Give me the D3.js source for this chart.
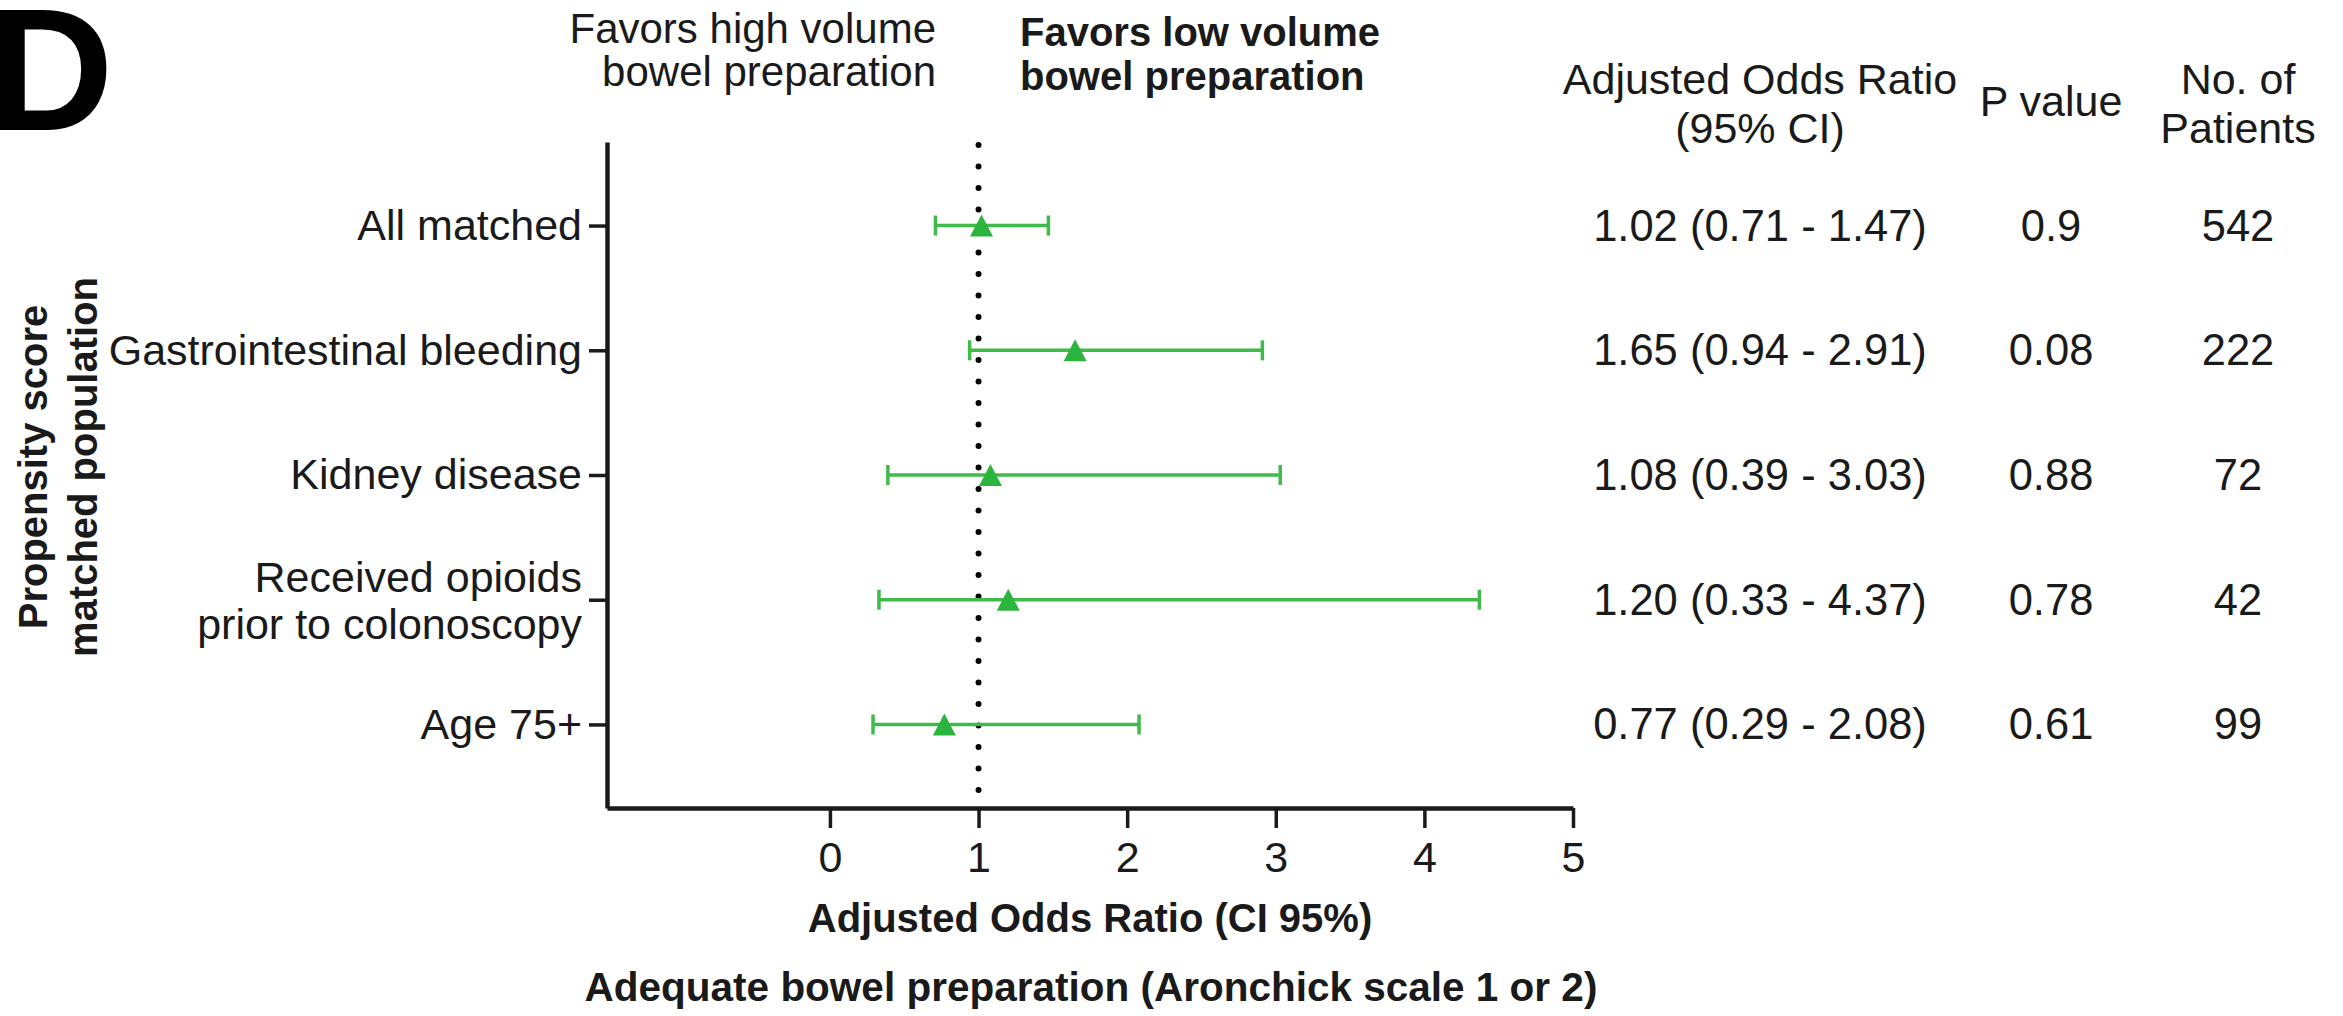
<!DOCTYPE html>
<html>
<head>
<meta charset="utf-8">
<script src="https://cdn.jsdelivr.net/npm/d3@7"></script>
<style>
  html, body { margin: 0; padding: 0; background: #ffffff; }
  svg { display: block; }
  text { font-family: "Liberation Sans", Arial, Helvetica, sans-serif; fill: #1a1a1a; }
</style>
</head>
<body>
<svg id="chart" width="2343" height="1016"></svg>
<script>
// ---------- data ----------
const categories = [
  "All matched",
  "Gastrointestinal bleeding",
  "Kidney disease",
  "Received opioids\nprior to colonoscopy",
  "Age 75+"
];
const oddsRatio = [1.02, 1.65, 1.08, 1.20, 0.77];
const ciLow     = [0.71, 0.94, 0.39, 0.33, 0.29];
const ciHigh    = [1.47, 2.91, 3.03, 4.37, 2.08];
const pValues   = ["0.9", "0.08", "0.88", "0.78", "0.61"];
const patients  = [542, 222, 72, 42, 99];
const xTicks    = [0, 1, 2, 3, 4, 5];
const xDomain   = [-1.5, 5];
const referenceValue = 1;

// ---------- layout ----------
const W = 2343, H = 1016;
const plot = { left: 607, right: 1573, top: 142, bottom: 808 };
const FS = 43;
const green = "#2cb53e";
const greenLine = "#3fba4b";
const ink = "#1a1a1a";

const svg = d3.select("#chart");
svg.append("rect").attr("width", W).attr("height", H).attr("fill", "#fff");

const x = d3.scaleLinear().domain(xDomain).range([plot.left, plot.right]);
const y = d3.scalePoint().domain(categories).range([plot.top, plot.bottom]).padding(0.67);

const rows = categories.map((c, i) => ({
  cat: c, or: oddsRatio[i], lo: ciLow[i], hi: ciHigh[i], p: pValues[i], n: patients[i]
}));

// ---------- panel letter ----------
svg.append("text")
  .attr("x", -12).attr("y", 130)
  .attr("font-size", 174).attr("font-weight", "bold")
  .style("fill", "#000")
  .text("D");

// ---------- favors headers ----------
const favL = svg.append("text").attr("text-anchor", "end").attr("font-size", 42);
favL.append("tspan").attr("x", 936).attr("y", 43).text("Favors high volume");
favL.append("tspan").attr("x", 936).attr("y", 86).text("bowel preparation");
const favR = svg.append("text").attr("text-anchor", "start").attr("font-size", 40).attr("font-weight", "bold");
favR.append("tspan").attr("x", 1020).attr("y", 46).text("Favors low volume");
favR.append("tspan").attr("x", 1020).attr("y", 90).text("bowel preparation");

// ---------- table headers ----------
const colAOR = 1760, colP = 2051, colN = 2238;
const hAOR = svg.append("text").attr("text-anchor", "middle").attr("font-size", FS);
hAOR.append("tspan").attr("x", colAOR).attr("y", 94).text("Adjusted Odds Ratio");
hAOR.append("tspan").attr("x", colAOR).attr("y", 143).text("(95% CI)");
svg.append("text").attr("text-anchor", "middle").attr("font-size", FS)
  .attr("x", colP).attr("y", 116).text("P value");
const hN = svg.append("text").attr("text-anchor", "middle").attr("font-size", FS);
hN.append("tspan").attr("x", colN).attr("y", 94).text("No. of");
hN.append("tspan").attr("x", colN).attr("y", 143).text("Patients");

// ---------- reference dotted line ----------
svg.append("line")
  .attr("x1", x(referenceValue)).attr("x2", x(referenceValue))
  .attr("y1", plot.top + 3).attr("y2", plot.bottom)
  .attr("stroke", "#000").attr("stroke-width", 6)
  .attr("stroke-linecap", "round")
  .attr("stroke-dasharray", "0 21.5");

// ---------- axes ----------
const xAxis = d3.axisBottom(x).tickValues(xTicks).tickFormat(d3.format("d"))
  .tickSize(20).tickSizeOuter(0).tickPadding(13);
const gx = svg.append("g").attr("transform", `translate(0,${plot.bottom})`).call(xAxis);
gx.select(".domain").attr("stroke", ink).attr("stroke-width", 4.5);
gx.selectAll(".tick line").attr("stroke", ink).attr("stroke-width", 3.5);
gx.selectAll(".tick text").attr("font-size", FS).attr("font-family", null).style("fill", ink);

const yAxis = d3.axisLeft(y).tickSize(18).tickSizeOuter(0).tickPadding(7);
const gy = svg.append("g").attr("transform", `translate(${plot.left},0)`).call(yAxis);
gy.select(".domain").attr("stroke", ink).attr("stroke-width", 4.5);
gy.selectAll(".tick line").attr("stroke", ink).attr("stroke-width", 3.5);
gy.selectAll(".tick text")
  .attr("font-size", FS).attr("font-family", null).style("fill", ink)
  .each(function(d) {
    const parts = d.split("\n");
    const t = d3.select(this);
    if (parts.length > 1) {
      const xx = t.attr("x");
      t.text(null).attr("dy", null);
      const lh = 47;
      const start = 0.35 * FS - (parts.length - 1) * lh / 2;
      parts.forEach((p, k) => {
        t.append("tspan").attr("x", xx).attr("dy", k === 0 ? start : lh).text(p);
      });
    }
  });

// axis titles
svg.append("text")
  .attr("x", (plot.left + plot.right) / 2).attr("y", 932)
  .attr("text-anchor", "middle").attr("font-size", 40).attr("font-weight", "bold")
  .text("Adjusted Odds Ratio (CI 95%)");
svg.append("text")
  .attr("x", 1091).attr("y", 1001)
  .attr("text-anchor", "middle").attr("font-size", 40.5).attr("font-weight", "bold")
  .text("Adequate bowel preparation (Aronchick scale 1 or 2)");

const yTitle = svg.append("text")
  .attr("transform", "translate(0,467) rotate(-90)")
  .attr("text-anchor", "middle").attr("font-size", 40).attr("font-weight", "bold");
yTitle.append("tspan").attr("x", 0).attr("y", 47).text("Propensity score");
yTitle.append("tspan").attr("x", 0).attr("y", 97).text("matched population");

// ---------- error bars ----------
const capH = 10;
const bars = svg.append("g").selectAll("g").data(rows).join("g");
bars.append("line")
  .attr("x1", d => x(d.lo)).attr("x2", d => x(d.hi))
  .attr("y1", d => y(d.cat)).attr("y2", d => y(d.cat))
  .attr("stroke", greenLine).attr("stroke-width", 3.5);
bars.append("line")
  .attr("x1", d => x(d.lo)).attr("x2", d => x(d.lo))
  .attr("y1", d => y(d.cat) - capH).attr("y2", d => y(d.cat) + capH)
  .attr("stroke", greenLine).attr("stroke-width", 3.5);
bars.append("line")
  .attr("x1", d => x(d.hi)).attr("x2", d => x(d.hi))
  .attr("y1", d => y(d.cat) - capH).attr("y2", d => y(d.cat) + capH)
  .attr("stroke", greenLine).attr("stroke-width", 3.5);
const triW = 23, triH = 22;
bars.append("path")
  .attr("d", d => {
    const cx = x(d.or), cy = y(d.cat);
    return `M${cx},${cy - triH / 2}L${cx + triW / 2},${cy + triH / 2}L${cx - triW / 2},${cy + triH / 2}Z`;
  })
  .attr("fill", green);

// ---------- table values ----------
const fmt = d3.format(".2f");
const tbl = svg.append("g").selectAll("g").data(rows).join("g");
tbl.append("text").attr("text-anchor", "middle").attr("font-size", 43.5)
  .attr("x", colAOR).attr("y", d => y(d.cat) + 0.35 * FS)
  .text(d => `${fmt(d.or)} (${fmt(d.lo)} - ${fmt(d.hi)})`);
tbl.append("text").attr("text-anchor", "middle").attr("font-size", 43.5)
  .attr("x", colP).attr("y", d => y(d.cat) + 0.35 * FS)
  .text(d => d.p);
tbl.append("text").attr("text-anchor", "middle").attr("font-size", 43.5)
  .attr("x", colN).attr("y", d => y(d.cat) + 0.35 * FS)
  .text(d => d.n);
</script>
</body>
</html>
